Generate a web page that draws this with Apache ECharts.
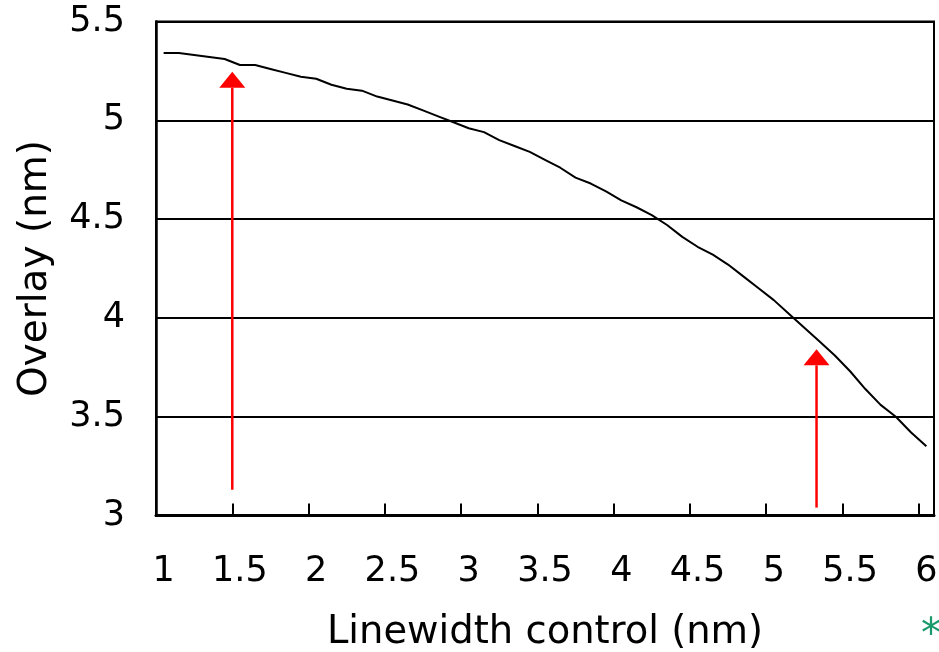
<!DOCTYPE html>
<html>
<head>
<meta charset="utf-8">
<script src="https://cdn.jsdelivr.net/npm/echarts@6/dist/echarts.min.js"></script>
<style>
html,body{margin:0;padding:0;background:#fff;}
#chart{width:939px;height:652px;}
</style>
</head>
<body>
<div id="chart"></div>
<script>
// Linewidth control (nm) categories
const categories = ['1','1.1','1.2','1.3','1.4','1.5','1.6','1.7','1.8','1.9',
  '2','2.1','2.2','2.3','2.4','2.5','2.6','2.7','2.8','2.9',
  '3','3.1','3.2','3.3','3.4','3.5','3.6','3.7','3.8','3.9',
  '4','4.1','4.2','4.3','4.4','4.5','4.6','4.7','4.8','4.9',
  '5','5.1','5.2','5.3','5.4','5.5','5.6','5.7','5.8','5.9','6'];
// Overlay (nm)
const overlay = [5.34,5.34,5.33,5.32,5.31,5.28,5.28,5.26,5.24,5.22,
  5.21,5.18,5.16,5.15,5.12,5.10,5.08,5.05,5.02,4.99,
  4.96,4.94,4.90,4.87,4.84,4.80,4.76,4.71,4.68,4.64,
  4.595,4.56,4.52,4.47,4.41,4.36,4.32,4.27,4.21,4.15,
  4.09,4.02,3.95,3.88,3.81,3.73,3.64,3.56,3.50,3.42,
  3.35];
const yTicks = [3, 3.5, 4, 4.5, 5, 5.5];
// red annotation arrows (x in nm, from base to tip in overlay units)
const arrowX = [1.45, 5.28];
const arrowBase = [3.13, 3.04];
const arrowTip = [5.246, 3.841];

const FONT = 'DejaVu Sans';
const chart = echarts.init(document.getElementById('chart'), null, {renderer:'canvas'});
const option = {
  animation: false,
  backgroundColor: '#fff',
  grid: {left:156, right:5, top:21.5, bottom:136.5, containLabel:false, outerBoundsMode:'none',
         show:true, borderColor:'#000', borderWidth:2, backgroundColor:'transparent'},
  xAxis: [{
    type: 'category',
    data: categories,
    boundaryGap: true,
    name: 'Linewidth control (nm)',
    nameLocation: 'middle',
    nameGap: 98,
    nameTextStyle: {fontFamily: FONT, fontSize: 38.5, color: '#000'},
    axisLine: {show:true, lineStyle:{color:'#000', width:3}},
    axisTick: {show:true, inside:true, length:12, interval:4, alignWithLabel:false, lineStyle:{color:'#000', width:2}},
    axisLabel: {interval:4, fontFamily: FONT, fontSize: 35, color:'#000', margin: 39},
    splitLine: {show:false}
  },{
    type: 'value',
    min: 0.95,
    max: 6.05,
    show: false
  }],
  yAxis: {
    type: 'value',
    min: yTicks[0],
    max: yTicks[yTicks.length-1],
    interval: 0.5,
    name: 'Overlay (nm)',
    nameLocation: 'middle',
    nameRotate: 90,
    nameGap: 101,
    nameTextStyle: {fontFamily: FONT, fontSize: 39, color: '#000'},
    axisLine: {show:true, lineStyle:{color:'#000', width:2.5}},
    axisTick: {show:false},
    axisLabel: {fontFamily: FONT, fontSize: 35, color:'#000', margin: 31},
    splitLine: {show:true, lineStyle:{color:'#000', width:2}}
  },
  series: [{
    type: 'line',
    data: overlay,
    xAxisIndex: 0,
    symbol: 'none',
    smooth: false,
    lineStyle: {color:'#000', width:2}
  },{
    type: 'custom',
    xAxisIndex: 1,
    clip: false,
    data: arrowX.map((x,i)=>[x, arrowBase[i], arrowTip[i]]),
    encode: {x:0, y:[1,2]},
    renderItem: function(params, api){
      const p0 = api.coord([api.value(0), api.value(1)]);
      const p1 = api.coord([api.value(0), api.value(2)]);
      const hh = 16, hw = 13;
      return {
        type: 'group',
        children: [{
          type: 'line',
          shape: {x1:p0[0], y1:p0[1], x2:p1[0], y2:p1[1]+hh},
          style: {stroke:'#ff0000', lineWidth:2.5}
        },{
          type: 'polygon',
          shape: {points: [[p1[0], p1[1]], [p1[0]-hw, p1[1]+hh], [p1[0]+hw, p1[1]+hh]]},
          style: {fill:'#ff0000'}
        }]
      };
    }
  }],
  graphic: [{
    type: 'text',
    left: 921,
    top: 617,
    style: {text:'*', fontFamily: FONT, fontSize: 40, fill:'#1a9a6a'}
  }]
};
chart.setOption(option);
</script>
</body>
</html>
